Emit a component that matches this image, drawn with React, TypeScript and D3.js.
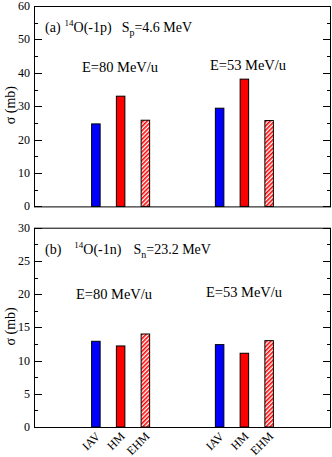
import React from "react"
import * as d3 from "d3"

// categories
const methods = ["IAV", "HM", "EHM"]
const energyLabels = ["E=80 MeV/u", "E=53 MeV/u"]

// panel (a) 14O(-1p), cross sections in mb
const sigmaP80 = [24.7, 33.0, 25.8]
const sigmaP53 = [29.4, 38.1, 25.7]

// panel (b) 14O(-1n)
const sigmaN80 = [12.9, 12.2, 14.0]
const sigmaN53 = [12.4, 11.1, 13.0]

const ticksA = [0, 10, 20, 30, 40, 50, 60]
const ticksB = [0, 5, 10, 15, 20, 25, 30]

const W = 332
const H = 457
const x0 = 34
const x1 = 331
const font = "'Liberation Serif', 'Times New Roman', serif"

const x = d3.scaleLinear().domain([0, 12]).range([x0, x1])
const slot = (g, m) => 2.5 + g * 5 + m
const barW = 8.5

const fills = ["#0000ff", "#ff0000", "url(#hatch)"]

const Panel = ({ top, bottom, max, ticks, minorStep, groups, label, sub, subVal, gaps, energyX, energyY }) => {
  const y = d3.scaleLinear().domain([0, max]).range([bottom, top])
  const minor = d3.range(minorStep, max, minorStep * 2)
  return (
    <g>
      {groups.map((vals, g) =>
        vals.map((v, m) => (
          <rect
            key={g + "-" + m}
            x={x(slot(g, m)) - barW / 2}
            y={y(v)}
            width={barW}
            height={y(0) - y(v)}
            fill={fills[m]}
            stroke="#000"
            strokeWidth={1}
          />
        ))
      )}
      <rect x={x0 + 0.5} y={top + 0.5} width={x1 - x0 - 1} height={bottom - top} fill="none" stroke="#000" strokeWidth={1} />
      {ticks.map((t) => (
        <g key={t}>
          <line x1={x0} x2={x0 + 8} y1={Math.round(y(t)) + 0.5} y2={Math.round(y(t)) + 0.5} stroke="#000" />
          <line x1={x1 - 8} x2={x1} y1={Math.round(y(t)) + 0.5} y2={Math.round(y(t)) + 0.5} stroke="#000" />
          <text x={x0 - 4} y={y(t) + 4} textAnchor="end" fontSize={12} fontFamily={font}>
            {t}
          </text>
        </g>
      ))}
      {minor.map((t) => (
        <g key={"m" + t}>
          <line x1={x0} x2={x0 + 4} y1={Math.round(y(t)) + 0.5} y2={Math.round(y(t)) + 0.5} stroke="#000" />
          <line x1={x1 - 4} x2={x1} y1={Math.round(y(t)) + 0.5} y2={Math.round(y(t)) + 0.5} stroke="#000" />
        </g>
      ))}
      <text x={15} y={(top + bottom) / 2 - 1} transform={`rotate(-90 15 ${(top + bottom) / 2 - 1})`} textAnchor="middle" fontSize={14} fontFamily={font}>
        σ (mb)
      </text>
      <text x={45} y={top + 26} fontSize={14} fontFamily={font}>
        {label[0]}
        <tspan dx={gaps[0]} dy={-6} fontSize={9}>14</tspan>
        <tspan dy={6}>{label[1]}</tspan>
        <tspan dx={gaps[1]}>S</tspan>
        <tspan dy={4} fontSize={10}>{sub}</tspan>
        <tspan dy={-4}>{subVal}</tspan>
      </text>
      {energyLabels.map((e, g) => (
        <text key={e} x={energyX[g]} y={energyY[g]} textAnchor="middle" fontSize={14.5} fontFamily={font}>
          {e}
        </text>
      ))}
    </g>
  )
}

export default function App() {
  const bottomB = 427
  return (
    <div style={{ position: "absolute", left: 0, top: 0 }}>
      <svg width={W} height={H} style={{ display: "block", background: "#fff" }}>
        <defs>
          <pattern id="hatch" width={3} height={3} patternUnits="userSpaceOnUse" patternTransform="rotate(45)">
            <rect width={3} height={3} fill="#fff" />
            <rect width={1.6} height={3} fill="#ff0000" />
          </pattern>
        </defs>
        <Panel
          top={6}
          bottom={206.4}
          max={60}
          ticks={ticksA}
          minorStep={5}
          groups={[sigmaP80, sigmaP53]}
          label={["(a)", "O(-1p)"]}
          sub="p"
          subVal="=4.6 MeV"
          gaps={[4, 10]}
          energyX={[120, 248]}
          energyY={[71.5, 69.5]}
        />
        <Panel
          top={227.7}
          bottom={bottomB}
          max={30}
          ticks={ticksB}
          minorStep={2.5}
          groups={[sigmaN80, sigmaN53]}
          label={["(b)", "O(-1n)"]}
          sub="n"
          subVal="=23.2 MeV"
          gaps={[13, 12]}
          energyX={[114, 244]}
          energyY={[299, 297]}
        />
        {[0, 1].map((g) =>
          methods.map((m, i) => {
            const cx = x(slot(g, i)) + 5
            const cy = bottomB + 10
            return (
              <text key={g + m} x={cx} y={cy} transform={`rotate(-45 ${cx} ${cy})`} textAnchor="end" fontSize={12} fontFamily={font}>
                {m}
              </text>
            )
          })
        )}
      </svg>
    </div>
  )
}
